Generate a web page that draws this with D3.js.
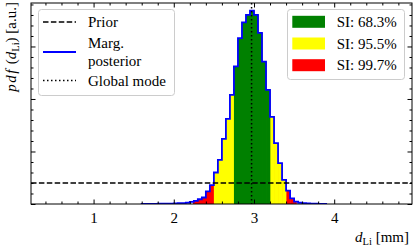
<!DOCTYPE html>
<html><head><meta charset="utf-8">
<script src="https://cdn.jsdelivr.net/npm/d3@7"></script>
<style>body{margin:0;background:#fff} svg{display:block}</style>
</head><body>
<svg id="c" width="415" height="249"></svg>
<script>
// ---- data ----
const binEdges = [1.60,1.65,1.70,1.75,1.80,1.85,1.90,1.95,2.00,2.05,2.10,2.15,2.20,2.25,2.30,2.35,2.40,2.45,2.50,2.55,2.60,2.65,2.70,2.75,2.80,2.85,2.90,2.95,3.00,3.05,3.10,3.15,3.20,3.25,3.30,3.35,3.40,3.45,3.50,3.55,3.60,3.65,3.70,3.75,3.80,3.85,3.90];
const density = [0.002,0.002,0.002,0.002,0.003,0.003,0.004,0.004,0.006,0.007,0.009,0.012,0.020,0.030,0.045,0.062,0.120,0.180,0.300,0.420,0.620,0.810,1.040,1.310,1.580,1.730,1.800,1.840,1.800,1.630,1.355,1.086,0.830,0.580,0.390,0.230,0.127,0.054,0.022,0.012,0.008,0.005,0.004,0.003,0.002,0.002];
const priorValue = 0.2;
const globalMode = 2.97;
const siLabels = ["SI: 68.3%", "SI: 95.5%", "SI: 99.7%"];
const siLower = [2.75, 2.50, 2.24];
const siUpper = [3.20, 3.40, 3.53];
const xMajorTicks = [1, 2, 3, 4];
const xTickLabels = ["1", "2", "3", "4"];
const legendLabels = ["Prior", ["Marg.", "posterior"], "Global mode"];

// ---- styles ----
const siColors = ["#008000", "#ffff00", "#ff0000"];
const FONT = "Liberation Serif, Times New Roman, Times, DejaVu Serif, serif";

const svg = d3.select("#c");
const L = 31, R = 412, T = 3, B = 204;
const x = d3.scaleLinear().domain([0.22, 4.97]).range([L, R]);
const y = d3.scaleLinear().domain([0, 1.914]).range([B, T]);

svg.append("defs").append("clipPath").attr("id", "clip")
  .append("rect").attr("x", L).attr("y", T).attr("width", R - L).attr("height", B - T);
const plot = svg.append("g").attr("clip-path", "url(#clip)");

// SI fills (widest first)
const bins = density.map((d, i) => ({lo: binEdges[i], hi: binEdges[i + 1], d}));
[2, 1, 0].forEach(k => {
  const segs = bins.filter(b => b.hi > siLower[k] && b.lo < siUpper[k])
    .map(b => ({a: Math.max(b.lo, siLower[k]), b: Math.min(b.hi, siUpper[k]), d: b.d}));
  plot.append("g").selectAll("rect").data(segs).join("rect")
    .attr("x", s => x(s.a)).attr("width", s => x(s.b) - x(s.a) + 0.3)
    .attr("y", s => y(s.d)).attr("height", s => y(0) - y(s.d))
    .attr("fill", siColors[k]);
});

// histogram step outline
const pts = [[binEdges[0], 0]];
bins.forEach(b => { pts.push([b.lo, b.d]); pts.push([b.hi, b.d]); });
pts.push([binEdges[binEdges.length - 1], 0]);
plot.append("path")
  .attr("d", d3.line().x(p => x(p[0])).y(p => y(p[1]))(pts))
  .attr("fill", "none").attr("stroke", "#0000ff").attr("stroke-width", 1.8)
  .attr("stroke-linejoin", "miter");

// prior
plot.append("line").attr("x1", L).attr("x2", R).attr("y1", y(priorValue)).attr("y2", y(priorValue))
  .attr("stroke", "#000").attr("stroke-width", 1.5).attr("stroke-dasharray", "5.5,2.4");
// global mode
plot.append("line").attr("x1", x(globalMode)).attr("x2", x(globalMode)).attr("y1", T).attr("y2", B)
  .attr("stroke", "#000").attr("stroke-width", 1.5).attr("stroke-dasharray", "1.5,2.5");

// axes
const xMinor = d3.range(0.4, 4.97, 0.2).filter(v => Math.abs(v - Math.round(v)) > 1e-6);
const yMajor = [0, 0.5, 1.0, 1.5];
const yMinor = d3.range(0.1, 1.914, 0.1).filter(v => Math.abs(v * 2 - Math.round(v * 2)) > 1e-6);
function styleAxis(g) {
  g.select(".domain").remove();
  g.selectAll("line").attr("stroke", "#000").attr("stroke-width", 1);
  g.selectAll("text").attr("font-family", FONT).attr("font-size", 15).attr("fill", "#000");
}
svg.append("g").attr("transform", `translate(0,${B})`)
  .call(d3.axisBottom(x).tickValues(xMajorTicks).tickFormat((d, i) => xTickLabels[i]).tickSize(-4.5).tickPadding(8)).call(styleAxis);
svg.append("g").attr("transform", `translate(0,${B})`)
  .call(d3.axisBottom(x).tickValues(xMinor).tickFormat("").tickSize(-2.5)).call(styleAxis);
svg.append("g").attr("transform", `translate(0,${T})`)
  .call(d3.axisTop(x).tickValues(xMajorTicks).tickFormat("").tickSize(-4.5)).call(styleAxis);
svg.append("g").attr("transform", `translate(0,${T})`)
  .call(d3.axisTop(x).tickValues(xMinor).tickFormat("").tickSize(-2.5)).call(styleAxis);
svg.append("g").attr("transform", `translate(${L},0)`)
  .call(d3.axisLeft(y).tickValues(yMajor).tickFormat("").tickSize(-4.5)).call(styleAxis);
svg.append("g").attr("transform", `translate(${L},0)`)
  .call(d3.axisLeft(y).tickValues(yMinor).tickFormat("").tickSize(-2.5)).call(styleAxis);
svg.append("g").attr("transform", `translate(${R},0)`)
  .call(d3.axisRight(y).tickValues(yMajor).tickFormat("").tickSize(-4.5)).call(styleAxis);
svg.append("g").attr("transform", `translate(${R},0)`)
  .call(d3.axisRight(y).tickValues(yMinor).tickFormat("").tickSize(-2.5)).call(styleAxis);

svg.append("rect").attr("x", L).attr("y", T).attr("width", R - L).attr("height", B - T)
  .attr("fill", "none").attr("stroke", "#000").attr("stroke-width", 1);

// x label
const xl = svg.append("text").attr("x", 409).attr("y", 242).attr("text-anchor", "end")
  .attr("font-family", FONT).attr("font-size", 15).attr("fill", "#000");
xl.append("tspan").attr("font-style", "italic").text("d");
xl.append("tspan").attr("font-size", 10.5).attr("dy", 3).text("Li");
xl.append("tspan").attr("dy", -3).text(" [mm]");

// y label
const yl = svg.append("text").attr("transform", "translate(16,2) rotate(-90)").attr("text-anchor", "end")
  .attr("font-family", FONT).attr("font-size", 15).attr("fill", "#000");
yl.append("tspan").attr("font-style", "italic").attr("letter-spacing", 1.5).text("pdf");
yl.append("tspan").text("  (");
yl.append("tspan").attr("font-style", "italic").text("d");
yl.append("tspan").attr("font-size", 10.5).attr("dy", 3).text("Li");
yl.append("tspan").attr("dy", -3).text(") [a.u.]");

// legend 1
const lg1 = svg.append("g");
lg1.append("rect").attr("x", 38.5).attr("y", 9.5).attr("width", 136).attr("height", 86).attr("rx", 3)
  .attr("fill", "#fff").attr("fill-opacity", 0.8).attr("stroke", "#cccccc").attr("stroke-width", 1);
lg1.append("line").attr("x1", 43).attr("x2", 76).attr("y1", 22).attr("y2", 22)
  .attr("stroke", "#000").attr("stroke-width", 1.5).attr("stroke-dasharray", "5.5,2.4");
lg1.append("line").attr("x1", 43).attr("x2", 76).attr("y1", 52).attr("y2", 52)
  .attr("stroke", "#0000ff").attr("stroke-width", 1.8);
lg1.append("line").attr("x1", 43).attr("x2", 76).attr("y1", 80.5).attr("y2", 80.5)
  .attr("stroke", "#000").attr("stroke-width", 1.5).attr("stroke-dasharray", "1.5,2.5");
const lgText = (g, tx, ty, s) => g.append("text").attr("x", tx).attr("y", ty).attr("dy", "0.35em")
  .attr("font-family", FONT).attr("font-size", 15).attr("fill", "#000").text(s);
lgText(lg1, 88, 22, legendLabels[0]);
lgText(lg1, 88, 43, legendLabels[1][0]);
lgText(lg1, 88, 60.5, legendLabels[1][1]);
lgText(lg1, 88, 81, legendLabels[2]);

// legend 2
const lg2 = svg.append("g");
lg2.append("rect").attr("x", 287.5).attr("y", 9.5).attr("width", 117).attr("height", 70).attr("rx", 3)
  .attr("fill", "#fff").attr("fill-opacity", 0.8).attr("stroke", "#cccccc").attr("stroke-width", 1);
siLabels.forEach((s, i) => {
  const cy = 21.8 + i * 21.7;
  lg2.append("rect").attr("x", 292.3).attr("y", cy - 6).attr("width", 32.7).attr("height", 12).attr("fill", siColors[i]);
  lgText(lg2, 336.7, cy, s);
});
</script>
</body></html>
